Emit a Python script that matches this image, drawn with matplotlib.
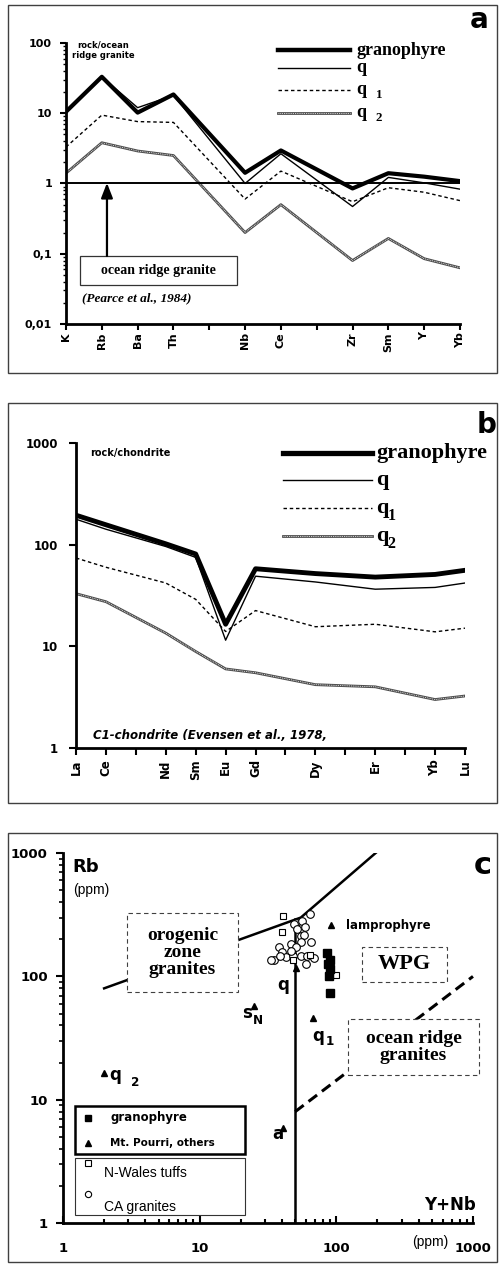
import numpy as np
from matplotlib import pyplot as plt
from matplotlib.patches import Rectangle
from matplotlib.ticker import LogLocator, NullFormatter, NullLocator

plt.rcParams["font.family"] = ["DejaVu Sans"]
SERIF = ["Liberation Serif", "DejaVu Serif"]

# a: rock / ocean ridge granite (None = element not analysed)
a_elements = ["K", "Rb", "Ba", "Th", "", "Nb", "Ce", "", "Zr", "Sm", "Y", "Yb"]
a_granophyre = [10.5, 33, 10.2, 18.5, None, 1.42, 2.95, None, 0.85, 1.4, 1.25, 1.08]
a_q = [10.5, 33, 12, 18, None, 1.0, 2.65, None, 0.47, 1.22, 1.02, 0.83]
a_q1 = [3.3, 9.4, 7.6, 7.4, None, 0.6, 1.5, None, 0.55, 0.87, 0.75, 0.57]
a_q2 = [1.4, 3.8, 2.9, 2.5, None, 0.2, 0.5, None, 0.08, 0.165, 0.085, 0.063]

# b: rock / chondrite
b_elements = ["La", "Ce", "", "Nd", "Sm", "Eu", "Gd", "", "Dy", "", "Er", "", "Yb", "Lu"]
b_granophyre = [195, 157, None, 102, 81, 16.5, 58, None, 52, None, 48, None, 51, 56]
b_q = [178, 142, None, 96, 75, 11.5, 49, None, 43, None, 36.5, None, 38, 42]
b_q1 = [74, 60, None, 42, 29, 14, 22.5, None, 15.6, None, 16.5, None, 13.9, 15.1]
b_q2 = [33, 27.5, None, 13.5, 8.9, 6.0, 5.5, None, 4.2, None, 4.0, None, 3.0, 3.25]

# c: Rb vs Y+Nb (ppm)
gran_ynb = [85, 90, 87, 90, 88, 90]
gran_rb = [154, 137, 125, 114, 100, 73]
tri_ynb = [92, 51, 25, 67, 2.0, 41]
tri_rb = [260, 118, 58, 46, 16.5, 5.9]
tri_names = ["lamprophyre", "q", "s", "q1", "q2", "a"]
tuff_ynb = [41, 40, 48, 64, 100]
tuff_rb = [310, 230, 136, 150, 103]
ca_ynb = [64, 51, 56, 49, 52, 59, 55, 58, 65, 55, 47, 51, 38, 40, 35, 43, 48, 55, 47, 61, 69, 60, 39, 33]
ca_rb = [318, 270, 280, 265, 241, 252, 211, 215, 189, 190, 182, 172, 172, 157, 137, 143, 146, 146, 160, 146, 140, 125, 146, 137]
# Pearce et al. (1984) boundaries
colg_ynb = [2, 55, 400]
colg_rb = [80, 300, 2000]
wpg_ynb = [50, 50]
wpg_rb = [1, 290]
org_ynb = [50, 1000]
org_rb = [8, 100]


def to_xy(vals):
    y = np.array(vals, dtype=float)
    x = np.arange(len(y))
    ok = ~np.isnan(y)
    return x[ok], y[ok]


def draw_series(ax, x, y, kind, thick=3.2, **kw):
    if kind == "granophyre":
        ax.plot(x, y, color="black", lw=thick, **kw)
    elif kind == "q":
        ax.plot(x, y, color="black", lw=1.0, **kw)
    elif kind == "q1":
        ax.plot(x, y, color="black", lw=1.0, dashes=(2.5, 2.0), **kw)
    else:
        ax.plot(x, y, color="0.3", lw=2.0, **kw)
        ax.plot(x, y, color="white", lw=0.6, dashes=(1, 1.2), **kw)


def sub_label(ax, x, y, main, sub, fs, dx, dy, family=None):
    kw = {"fontweight": "bold"}
    if family:
        kw["family"] = family
    ax.text(x, y, main, transform=ax.transAxes, fontsize=fs, va="center", **kw)
    ax.annotate(sub, xy=(x, y), xycoords=ax.transAxes, xytext=(dx, -dy),
                textcoords="offset points", fontsize=fs * 0.72, va="center", **kw)


def spider_legend(ax, x0, x1, tx, ys, fs, dx, dy, thick):
    for kind, y in zip(["granophyre", "q", "q1", "q2"], ys):
        draw_series(ax, [x0, x1], [y, y], kind, thick=thick,
                    transform=ax.transAxes, clip_on=False)
    ax.text(tx, ys[0], "granophyre", transform=ax.transAxes, fontsize=fs,
            fontweight="bold", family=SERIF, va="center")
    ax.text(tx, ys[1], "q", transform=ax.transAxes, fontsize=fs,
            fontweight="bold", family=SERIF, va="center")
    sub_label(ax, tx, ys[2], "q", "1", fs, dx, dy, SERIF)
    sub_label(ax, tx, ys[3], "q", "2", fs, dx, dy, SERIF)


def style_axes(ax):
    ax.set_facecolor("none")
    for side in ["top", "right"]:
        ax.spines[side].set_visible(False)
    for side in ["left", "bottom"]:
        ax.spines[side].set_linewidth(2)


fig = plt.figure(figsize=(5.03, 12.64), dpi=100)

# panel frames
for y0, h in [(0.705, 0.291), (0.365, 0.3165), (0.0016, 0.3394)]:
    fig.add_artist(Rectangle((0.016, y0), 0.972, h, transform=fig.transFigure,
                             fill=False, lw=1.0, ec="0.25"))

# ---------------- a ----------------
ax = fig.add_axes([0.1312, 0.7437, 0.7833, 0.2223])
style_axes(ax)
ax.set_yscale("log")
ax.set_xlim(0, 11)
ax.set_ylim(0.01, 100)
for vals, kind in [(a_q2, "q2"), (a_q1, "q1"), (a_q, "q"), (a_granophyre, "granophyre")]:
    x, y = to_xy(vals)
    draw_series(ax, x, y, kind, thick=3.0)
ax.axhline(1, color="black", lw=1.4)
ax.set_xticks(range(len(a_elements)), labels=a_elements, rotation=90,
              fontsize=8, fontweight="bold")
ax.set_yticks([0.01, 0.1, 1, 10, 100], labels=["0,01", "0,1", "1", "10", "100"],
              fontsize=8, fontweight="bold")
ax.yaxis.set_minor_locator(LogLocator(subs=range(2, 10)))
ax.yaxis.set_minor_formatter(NullFormatter())
ax.tick_params(axis="x", length=4, width=1.5, pad=2)
ax.tick_params(axis="y", which="major", length=4, width=1.5, pad=6)
ax.tick_params(axis="y", which="minor", length=2, width=1)
ax.text(0.095, 0.975, "rock/ocean\nridge granite", transform=ax.transAxes,
        fontsize=6, fontweight="bold", ha="center", va="center", linespacing=1.2)
ax.add_patch(Rectangle((0.036, 0.139), 0.398, 0.103, transform=ax.transAxes,
                       fill=False, lw=0.9, ec="0.2"))
ax.text(0.235, 0.19, "ocean ridge granite", transform=ax.transAxes, fontsize=10,
        fontweight="bold", family=SERIF, ha="center", va="center")
ax.text(0.04, 0.093, "(Pearce et al., 1984)", transform=ax.transAxes, fontsize=9.5,
        fontweight="bold", style="italic", family=SERIF, va="center")
ax.annotate("", xy=(0.104, 0.502), xytext=(0.104, 0.242), xycoords="axes fraction",
            arrowprops=dict(arrowstyle="-|>,head_length=0.9,head_width=0.35",
                            color="black", lw=1.6, shrinkA=0, shrinkB=0))
spider_legend(ax, 0.538, 0.721, 0.737, [0.975, 0.911, 0.833, 0.751], 13, 14, 4, 3.2)
fig.text(0.952, 0.984, "a", fontsize=20, fontweight="bold", ha="center", va="center")

# ---------------- b ----------------
ax = fig.add_axes([0.1511, 0.4082, 0.7734, 0.2413])
style_axes(ax)
ax.set_yscale("log")
ax.set_xlim(0, 13)
ax.set_ylim(1, 1000)
for vals, kind in [(b_q2, "q2"), (b_q1, "q1"), (b_q, "q"), (b_granophyre, "granophyre")]:
    x, y = to_xy(vals)
    draw_series(ax, x, y, kind, thick=3.5)
ax.set_xticks(range(len(b_elements)), labels=b_elements, rotation=90,
              fontsize=8.5, fontweight="bold")
ax.set_yticks([1, 10, 100, 1000], labels=["1", "10", "100", "1000"],
              fontsize=8.5, fontweight="bold")
ax.yaxis.set_minor_locator(NullLocator())
ax.tick_params(axis="x", length=5, width=1.5, pad=3)
ax.tick_params(axis="y", length=5, width=1.5, pad=8)
ax.text(0.036, 0.967, "rock/chondrite", transform=ax.transAxes, fontsize=7,
        fontweight="bold", va="center")
ax.text(0.044, 0.04, "C1-chondrite (Evensen et al., 1978,", transform=ax.transAxes,
        fontsize=8.5, fontweight="bold", style="italic", va="center")
spider_legend(ax, 0.532, 0.761, 0.772, [0.967, 0.879, 0.787, 0.695], 16, 8, 6, 3.8)
fig.text(0.968, 0.664, "b", fontsize=20, fontweight="bold", ha="center", va="center")

# ---------------- c ----------------
ax = fig.add_axes([0.1252, 0.0324, 0.8151, 0.2927])
style_axes(ax)
ax.set_xscale("log")
ax.set_yscale("log")
ax.set_xlim(1, 1000)
ax.set_ylim(1, 1000)
ax.plot(colg_ynb, colg_rb, color="black", lw=1.8, zorder=2)
ax.plot(wpg_ynb, wpg_rb, color="black", lw=1.8, zorder=2)
ax.plot(org_ynb, org_rb, color="black", lw=2.2, dashes=(3.5, 2), zorder=2, clip_on=False)
ax.plot(ca_ynb, ca_rb, "o", ms=5.5, mfc="white", mec="black", mew=0.8, zorder=4)
ax.plot(tuff_ynb, tuff_rb, "s", ms=5, mfc="white", mec="black", mew=0.8, zorder=4)
ax.plot(gran_ynb, gran_rb, "s", ms=5.2, color="black", zorder=5)
ax.plot(tri_ynb, tri_rb, "^", ms=5, color="black", zorder=5)

ax.set_xticks([1, 10, 100, 1000], labels=["1", "10", "100", "1000"],
              fontsize=9.5, fontweight="bold")
ax.set_yticks([1, 10, 100, 1000], labels=["1", "10", "100", "1000"],
              fontsize=9.5, fontweight="bold")
for axis in [ax.xaxis, ax.yaxis]:
    axis.set_minor_locator(LogLocator(subs=range(2, 10)))
    axis.set_minor_formatter(NullFormatter())
ax.tick_params(axis="x", which="both", direction="in", width=1.5, pad=14)
ax.tick_params(axis="x", which="major", length=5)
ax.tick_params(axis="x", which="minor", length=3)
ax.tick_params(axis="y", which="major", length=5, width=1.5, pad=6)
ax.tick_params(axis="y", which="minor", length=3, width=1.2)

# field boxes
for (x0, y0, w, h) in [(0.156, 0.624, 0.271, 0.214), (0.729, 0.651, 0.208, 0.095),
                       (0.695, 0.4, 0.32, 0.151)]:
    ax.add_patch(Rectangle((x0, y0), w, h, transform=ax.transAxes, fc="white",
                           ec="0.25", lw=0.8, ls=(0, (4, 3)), zorder=3, clip_on=False))
ax.text(0.2915, 0.731, "orogenic\nzone\ngranites", transform=ax.transAxes, fontsize=14,
        fontweight="bold", family=SERIF, ha="center", va="center", linespacing=1.0, zorder=6)
ax.text(0.833, 0.699, "WPG", transform=ax.transAxes, fontsize=16,
        fontweight="bold", family=SERIF, ha="center", va="center", zorder=6)
ax.text(0.855, 0.476, "ocean ridge\ngranites", transform=ax.transAxes, fontsize=14,
        fontweight="bold", family=SERIF, ha="center", va="center", linespacing=1.05, zorder=6)

# sample labels
ax.text(0.69, 0.803, "lamprophyre", transform=ax.transAxes, fontsize=8.5,
        fontweight="bold", va="center")
ax.text(0.522, 0.643, "q", transform=ax.transAxes, fontsize=12, fontweight="bold", va="center")
ax.text(0.51, 0.241, "a", transform=ax.transAxes, fontsize=12, fontweight="bold", va="center")
sub_label(ax, 0.436, 0.567, "s", "N", 12, 8, 5)
sub_label(ax, 0.607, 0.505, "q", "1", 12, 10, 4)
sub_label(ax, 0.112, 0.4, "q", "2", 12, 16, 5)

# legend boxes
ax.add_patch(Rectangle((0.029, 0.186), 0.415, 0.13, transform=ax.transAxes,
                       fc="white", ec="black", lw=1.8, zorder=3))
ax.add_patch(Rectangle((0.029, 0.022), 0.415, 0.154, transform=ax.transAxes,
                       fc="white", ec="0.2", lw=0.8, zorder=3))
ax.plot([0.061], [0.284], "s", ms=5, color="black", transform=ax.transAxes, zorder=4)
ax.plot([0.061], [0.216], "^", ms=5, color="black", transform=ax.transAxes, zorder=4)
ax.plot([0.061], [0.162], "s", ms=4.5, mfc="white", mec="black", mew=0.8,
        transform=ax.transAxes, zorder=4)
ax.plot([0.061], [0.078], "o", ms=4.5, mfc="white", mec="black", mew=0.8,
        transform=ax.transAxes, zorder=4)
ax.text(0.115, 0.284, "granophyre", transform=ax.transAxes, fontsize=8.5,
        fontweight="bold", va="center", zorder=5)
ax.text(0.115, 0.216, "Mt. Pourri, others", transform=ax.transAxes, fontsize=7.5,
        fontweight="bold", va="center", zorder=5)
ax.text(0.1, 0.136, "N-Wales tuffs", transform=ax.transAxes, fontsize=10,
        family="Liberation Sans", va="center", zorder=5)
ax.text(0.1, 0.044, "CA granites", transform=ax.transAxes, fontsize=10,
        family="Liberation Sans", va="center", zorder=5)

ax.text(0.024, 0.962, "Rb", transform=ax.transAxes, fontsize=13, fontweight="bold", va="center")
ax.text(0.024, 0.9, "(ppm)", transform=ax.transAxes, fontsize=10, va="center",
        family="Liberation Sans")
ax.text(1.007, 0.05, "Y+Nb", transform=ax.transAxes, fontsize=12, fontweight="bold",
        ha="right", va="center")
ax.text(0.895, -0.05, "(ppm)", transform=ax.transAxes, fontsize=10, ha="center",
        va="center", family="Liberation Sans")
fig.text(0.96, 0.315, "c", fontsize=22, fontweight="bold", ha="center", va="center")

fig.savefig("out.png", dpi=100)
